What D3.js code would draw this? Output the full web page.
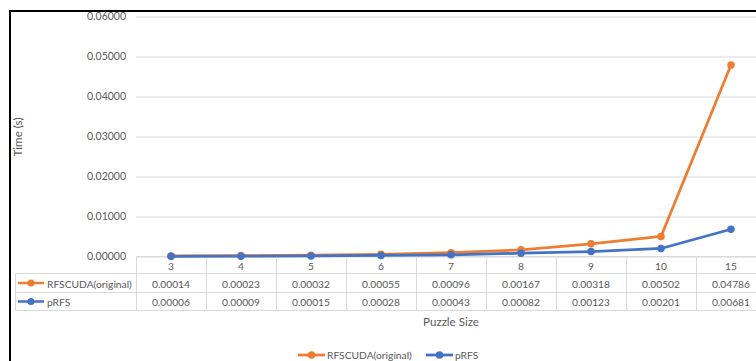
<!DOCTYPE html>
<html>
<head>
<meta charset="utf-8">
<script src="https://cdn.jsdelivr.net/npm/d3@7"></script>
<style>
  html, body { margin: 0; padding: 0; background: #fff; }
  svg { display: block; font-family: Lato, "Open Sans", sans-serif; }
</style>
</head>
<body>
<svg id="chart" width="756" height="361"></svg>
<script>
// Puzzle sizes and timings (seconds)
const categories = ["3", "4", "5", "6", "7", "8", "9", "10", "15"];
const rfscuda = [0.00014, 0.00023, 0.00032, 0.00055, 0.00096, 0.00167, 0.00318, 0.00502, 0.04786];
const prfs    = [0.00006, 0.00009, 0.00015, 0.00028, 0.00043, 0.00082, 0.00123, 0.00201, 0.00681];
const yTicks  = [0, 0.01, 0.02, 0.03, 0.04, 0.05, 0.06];
const seriesNames = ["RFSCUDA(original)", "pRFS"];
const seriesColors = ["#ED7D31", "#4472C4"];

const series = [
  { name: seriesNames[0], values: rfscuda, color: seriesColors[0] },
  { name: seriesNames[1], values: prfs, color: seriesColors[1] }
];

const svg = d3.select("#chart");
const textColor = "#595959";
const gridColor = "#d9d9d9";

// Pick a font size so that a sample string takes the wanted width
function fitSize(sample, width) {
  const t = svg.append("text").attr("font-size", 100).text(sample);
  const len = t.node().getComputedTextLength();
  t.remove();
  return 100 * width / len;
}

function draw() {
  const numSize = fitSize("0.00014", 38);
  const tickSize = fitSize("0.06000", 39);
  const labelSize = fitSize("RFSCUDA(original)", 85);
  const titleSize = fitSize("Puzzle Size", 56);

  const plotLeft = 136, plotRight = 766;
  const plotTop = 16.5, plotBottom = 256.5;
  const tableLeft = 15;
  const rowEdges = [256.5, 273.5, 292.5, 310.5];

  const x = d3.scaleBand().domain(categories).range([plotLeft, plotRight]);
  const y = d3.scaleLinear().domain([0, 0.06]).range([plotBottom, plotTop]);
  const fmt = d3.format(".5f");

  // Outer frame
  svg.append("rect")
    .attr("x", 10).attr("y", 11)
    .attr("width", 800).attr("height", 400)
    .attr("fill", "none").attr("stroke", "#000").attr("stroke-width", 2);

  // Gridlines and y tick labels
  const yAxis = d3.axisLeft(y).tickValues(yTicks).tickFormat(fmt)
    .tickSize(-(plotRight - plotLeft)).tickPadding(10);
  const yg = svg.append("g").attr("transform", `translate(${plotLeft},0)`).call(yAxis);
  yg.select(".domain").remove();
  yg.selectAll(".tick line").attr("stroke", gridColor).attr("stroke-width", 1);
  yg.selectAll(".tick text")
    .attr("fill", textColor).attr("font-size", tickSize).attr("font-family", "Lato, sans-serif");

  // Y title
  svg.append("text")
    .attr("transform", "translate(22,137) rotate(-90)")
    .attr("text-anchor", "middle")
    .attr("fill", textColor).attr("font-size", titleSize)
    .text("Time (s)");

  // Data table rules
  const table = svg.append("g").attr("stroke", gridColor).attr("stroke-width", 1).attr("fill", "none");
  table.append("line").attr("x1", plotLeft).attr("x2", plotRight).attr("y1", rowEdges[0]).attr("y2", rowEdges[0]);
  [1, 2, 3].forEach(i => {
    table.append("line").attr("x1", tableLeft).attr("x2", plotRight)
      .attr("y1", rowEdges[i]).attr("y2", rowEdges[i]);
  });
  table.append("line").attr("x1", tableLeft + 0.5).attr("x2", tableLeft + 0.5)
    .attr("y1", rowEdges[1]).attr("y2", rowEdges[3]);
  categories.forEach(c => {
    const xx = Math.round(x(c)) + 0.5;
    table.append("line").attr("x1", xx).attr("x2", xx).attr("y1", rowEdges[0]).attr("y2", rowEdges[3]);
  });

  // category labels
  svg.append("g").selectAll("text").data(categories).join("text")
    .attr("x", d => x(d) + x.bandwidth() / 2)
    .attr("y", (rowEdges[0] + rowEdges[1]) / 2 + 4.5)
    .attr("text-anchor", "middle")
    .attr("fill", textColor).attr("font-size", numSize)
    .text(d => d);

  // value rows
  series.forEach((s, si) => {
    const cy = (rowEdges[si + 1] + rowEdges[si + 2]) / 2;
    const row = svg.append("g");
    row.append("line").attr("x1", 18).attr("x2", 44).attr("y1", cy).attr("y2", cy)
      .attr("stroke", s.color).attr("stroke-width", 2.5);
    row.append("circle").attr("cx", 31).attr("cy", cy).attr("r", 3.5).attr("fill", s.color);
    row.append("text").attr("x", 47).attr("y", cy + 4.5)
      .attr("fill", textColor).attr("font-size", labelSize).text(s.name);
    row.selectAll("text.v").data(s.values).join("text").attr("class", "v")
      .attr("x", (d, i) => x(categories[i]) + x.bandwidth() / 2)
      .attr("y", cy + 4.5)
      .attr("text-anchor", "middle")
      .attr("fill", textColor).attr("font-size", numSize)
      .text(d => fmt(d));
  });

  // Lines and markers
  const line = d3.line()
    .x((d, i) => x(categories[i]) + x.bandwidth() / 2)
    .y(d => y(d));

  series.forEach(s => {
    const g = svg.append("g");
    g.append("path").datum(s.values).attr("d", line)
      .attr("fill", "none").attr("stroke", s.color).attr("stroke-width", 2.75)
      .attr("stroke-linejoin", "round");
    g.selectAll("circle").data(s.values).join("circle")
      .attr("cx", (d, i) => x(categories[i]) + x.bandwidth() / 2)
      .attr("cy", d => y(d))
      .attr("r", 3.75).attr("fill", s.color);
  });

  // X title
  svg.append("text")
    .attr("x", 451).attr("y", 326)
    .attr("text-anchor", "middle")
    .attr("fill", textColor).attr("font-size", titleSize)
    .text("Puzzle Size");

  // Legend
  const legendItems = [
    { x0: 298, textX: 327 },
    { x0: 426, textX: 455 }
  ];
  const ly = 355;
  series.forEach((s, i) => {
    const it = legendItems[i];
    const g = svg.append("g");
    g.append("line").attr("x1", it.x0).attr("x2", it.x0 + 27).attr("y1", ly).attr("y2", ly)
      .attr("stroke", s.color).attr("stroke-width", 2.75);
    g.append("circle").attr("cx", it.x0 + 13.5).attr("cy", ly).attr("r", 3.75).attr("fill", s.color);
    g.append("text").attr("x", it.textX).attr("y", ly + 4)
      .attr("fill", textColor).attr("font-size", labelSize).text(s.name);
  });
}

// Make sure the face is ready before measuring text
if (document.fonts && document.fonts.load) {
  Promise.all([document.fonts.load("12px Lato"), document.fonts.ready]).then(draw, draw);
} else {
  draw();
}
</script>
</body>
</html>
